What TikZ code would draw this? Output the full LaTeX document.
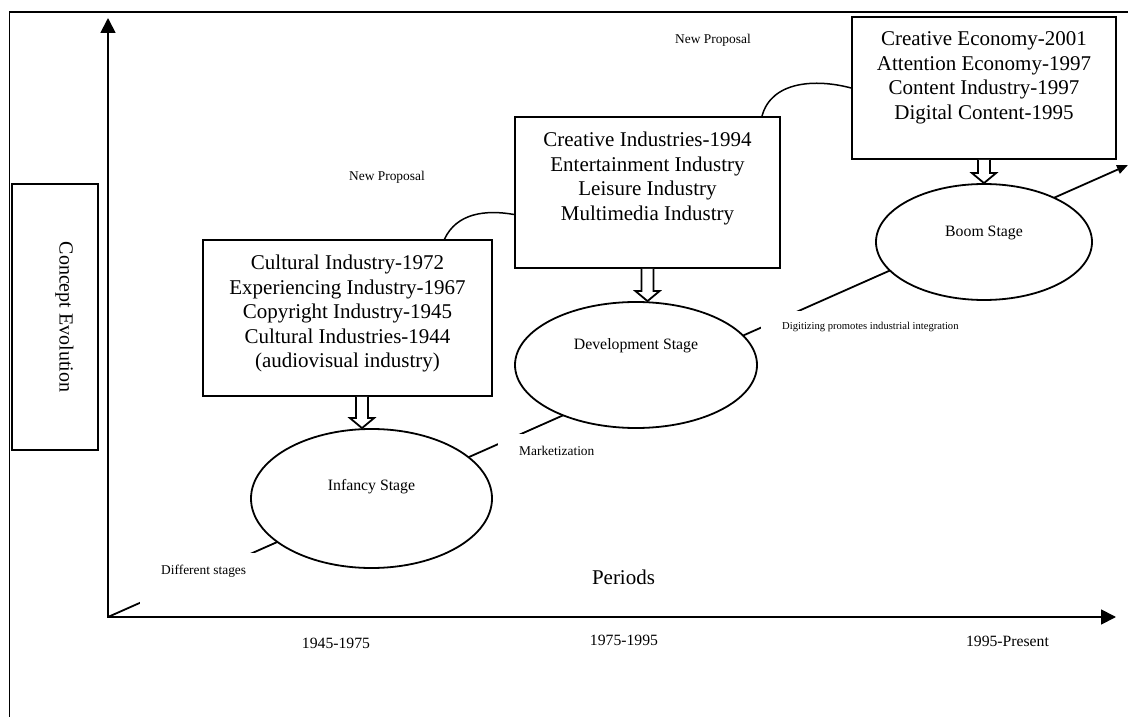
\documentclass[tikz,border=0pt]{standalone}
\usepackage{fontspec}
\setmainfont{Liberation Serif}
\usetikzlibrary{arrows.meta, calc, shapes.geometric}

\newcommand\boxlines[3]{\parbox[c][#2][t]{#1}{\centering\vspace*{15pt}#3}}

\tikzset{
  lines/.style={line width=1.8pt},
  conceptbox/.style={draw, lines, fill=white, inner sep=0pt, font=\fontsize{21}{24.5}\selectfont},
  stage/.style={ellipse, draw, lines, fill=white, inner sep=0pt, text height=11pt, font=\fontsize{15.8}{18}\selectfont},
  tag/.style={fill=white, anchor=north west, inner xsep=21pt, inner ysep=0pt, text height=21.5pt, text depth=20pt, font=\fontsize{13.4}{15}\selectfont},
  hollow/.style={lines, fill=white, to path={let \p1=(\tikztostart), \p2=(\tikztotarget) in
    (\x1-6pt,\y1) -- (\x1-6pt,\y2+10pt) -- (\x1-12pt,\y2+10pt) -- (\x1,\y2)
    -- (\x1+12pt,\y2+10pt) -- (\x1+6pt,\y2+10pt) -- (\x1+6pt,\y1)}},
  proposal/.style={line width=1.5pt},
  year/.style={font=\fontsize{15.7}{18}\selectfont}
}

\begin{document}
\begin{tikzpicture}[x=1pt, y=1pt]
    \useasboundingbox (0,0) rectangle (1128,716);
    \draw[lines] (9.5,-20) |- (1150,704);

    % axes and the trend line
    \coordinate (o) at (108,99);
    \coordinate (ytop) at (108,698);
    \coordinate (xend) at (1116,99);
    \coordinate (tend) at (1128,551);
    \draw[lines, {Triangle[length=15pt,width=15pt]}-{Triangle[length=15pt,width=15pt]}] (ytop) |- (xend);
    \draw[lines, -{Triangle[length=11pt,width=9pt]}] (o) -- (tend);

    \node[tag, text depth=35pt] (diff) at (140,163) {Different stages};
    \node[tag] (mkt) at (498,282) {Marketization};
    \node[tag, text height=18.5pt, font=\fontsize{10.6}{12}\selectfont] (digi) at (761,405) {Digitizing promotes industrial integration};

    % stages
    \node[stage, minimum width=241pt, minimum height=139pt, text depth=27pt] (inf) at (371.5,217.5) {Infancy Stage};
    \node[stage, minimum width=242pt, minimum height=126pt, text depth=42pt] (dev) at (636,351) {Development Stage};
    \node[stage, minimum width=216pt, minimum height=116pt, text depth=22pt] (boom) at (984,474) {Boom Stage};

    % concepts
    \node[conceptbox] (cult) at (347.5,398) {\boxlines{289pt}{156pt}{Cultural Industry-1972\\Experiencing Industry-1967\\Copyright Industry-1945\\Cultural Industries-1944\\(audiovisual industry)}};
    \node[conceptbox] (crea) at (647.5,523.5) {\boxlines{265pt}{151pt}{Creative Industries-1994\\Entertainment Industry\\Leisure Industry\\Multimedia Industry}};
    \node[conceptbox] (econ) at (984,628) {\boxlines{264pt}{142pt}{Creative Economy-2001\\Attention Economy-1997\\Content Industry-1997\\Digital Content-1995}};

    \draw[hollow] ([xshift=14.5pt]cult.south) to (inf.north);
    \draw[hollow] (crea.south) to (dev.north);
    \draw[hollow] (econ.south) to (boom.north);

    \draw[proposal] ([xshift=97pt]cult.north) to[out=65, in=170] ([yshift=-22pt]crea.west);
    \draw[proposal] ([xshift=114.5pt]crea.north) to[out=75, in=165] (econ.west);

    \node[font=\fontsize{13.4}{15}\selectfont] (np1) at (387,539) {New Proposal};
    \node[font=\fontsize{13.4}{15}\selectfont] (np2) at (713,676) {New Proposal};

    \node[draw, lines, rotate=-90, minimum width=266pt, minimum height=86pt, inner sep=0pt, text height=10pt, text depth=19pt, font=\fontsize{20}{24}\selectfont] (evol) at (55,399) {Concept Evolution};
    \node[font=\fontsize{21}{24}\selectfont] (per) at (623.5,139) {Periods};
    \node[year] (y1) at (336,73) {1945-1975};
    \node[year] (y2) at (624,76) {1975-1995};
    \node[year] (y3) at (1007.5,75) {1995-Present};
\end{tikzpicture}
\end{document}
